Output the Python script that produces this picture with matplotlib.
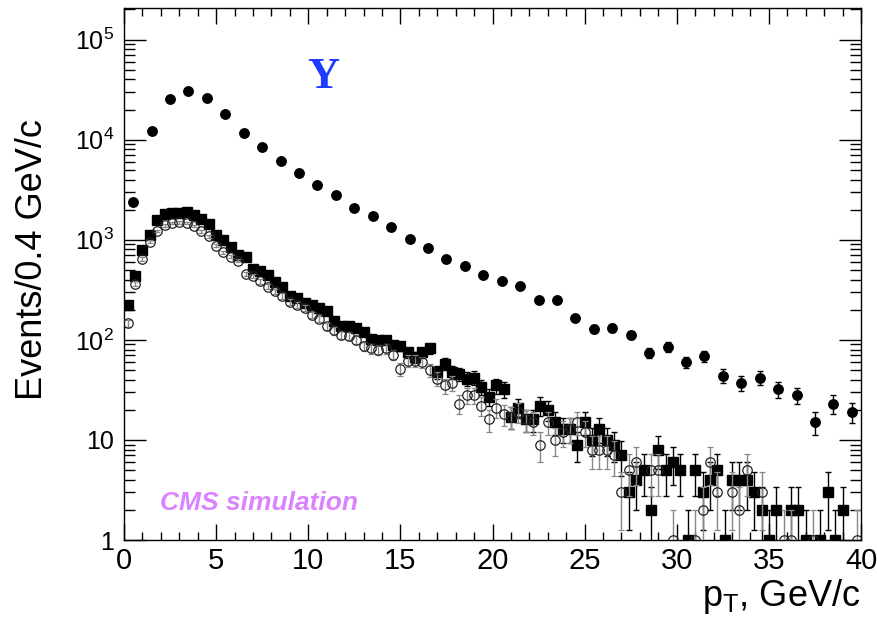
import matplotlib
matplotlib.use('Agg')
import matplotlib.pyplot as plt
import numpy as np
from matplotlib.ticker import FixedLocator, FixedFormatter, MultipleLocator, LogLocator, NullFormatter

plt.rcParams['font.family'] = ['Liberation Sans', 'DejaVu Sans']
plt.rcParams['mathtext.fontset'] = 'custom'
plt.rcParams['mathtext.rm'] = 'Liberation Sans'
plt.rcParams['mathtext.it'] = 'Liberation Sans:italic'

# Upsilon pT spectrum, 1 GeV/c bins (filled circles)
ups_pt = np.arange(0.5, 40, 1.0)
ups_counts = [2400, 12300, 25700, 31000, 26300, 18200, 11700, 8500, 6150, 4700,
              3550, 2800, 2090, 1740, 1350, 1020, 830, 645, 550, 447,
              389, 347, 251, 251, 166, 129, 132, 112, 74, 85,
              60, 69, 44, 37, 42, 32, 28, 15, 23, 19]

# 0.4 GeV/c bins
pt_bins = np.arange(0.2, 40, 0.4)
# filled squares
sq_counts = [225, 437, 785, 1110, 1560, 1790, 1850, 1870, 1880, 1780,
             1600, 1450, 1120, 990, 855, 700, 680, 505, 482, 440,
             382, 335, 275, 261, 233, 224, 208, 192, 155, 138,
             138, 131, 119, 102, 100, 100, 89, 86, 75, 67,
             75, 82, 48, 58, 48, 46, 41, 42, 34, 27,
             35, 32, 17, 21, 16, 16, 22, 20, 15, 13,
             13, 9, 15, 10, 13, 10, 9, 7, 3, 4,
             5, 2, 8, 5, 6, 5, 1, 5, 3, 4,
             5, 1, 4, 4, 4, 3, 2, 1, 2, 0,
             2, 2, 1, 0, 1, 3, 1, 2, 0, 0]
# open circles
oc_counts = [147, 365, 640, 960, 1220, 1390, 1470, 1490, 1460, 1370,
             1210, 1080, 870, 750, 680, 620, 460, 435, 385, 340,
             305, 275, 240, 222, 208, 178, 162, 136, 124, 112,
             110, 100, 86, 82, 80, 82, 71, 51, 62, 62,
             60, 50, 41, 35, 37, 23, 28, 28, 22, 16,
             21, 18, 17, 19, 16, 15, 9, 15, 10, 12,
             13, 15, 12, 8, 8, 8, 7, 3, 5, 6,
             0, 5, 5, 0, 1, 0, 0, 1, 2, 6,
             3, 0, 3, 2, 5, 0, 3, 0, 0, 1,
             1, 0, 0, 1, 0, 0, 0, 0, 0, 1]

ytick_vals = [1, 10, 100, 1000, 10000, 100000]
ytick_labels = ['1', '10', r'$\mathregular{10^{2}}$', r'$\mathregular{10^{3}}$',
                r'$\mathregular{10^{4}}$', r'$\mathregular{10^{5}}$']


def poisson(x, counts):
    x = np.asarray(x)
    y = np.asarray(counts, dtype=float)
    keep = y > 0
    x, y = x[keep], y[keep]
    err = np.sqrt(y)
    lo = np.minimum(err, y * 0.999)
    return x, y, [lo, err]


fig = plt.figure(figsize=(8.77, 6.18), dpi=100)
ax = fig.add_axes([124 / 877, 1 - 540 / 618, 737 / 877, 532 / 618])

x, y, e = poisson(pt_bins, sq_counts)
ax.errorbar(x, y, yerr=e, fmt='s', ms=6.5, color='black', ecolor='black',
            elinewidth=1, capsize=2.5, capthick=1, zorder=3)

x, y, e = poisson(pt_bins, oc_counts)
ax.errorbar(x, y, yerr=e, fmt='o', ms=6.8, mfc='none', mec='#222222', mew=0.9,
            ecolor='#888888', elinewidth=1, capsize=2.5, capthick=1, zorder=4)

x, y, e = poisson(ups_pt, ups_counts)
ax.errorbar(x, y, yerr=e, fmt='o', ms=6.8, color='black', ecolor='black',
            elinewidth=1, capsize=2.5, capthick=1, zorder=5)

ax.set_yscale('log')
ax.set_xlim(0, 40)
ax.set_ylim(1, 2.07e5)

ax.xaxis.set_major_locator(MultipleLocator(5))
ax.xaxis.set_minor_locator(MultipleLocator(1))
ax.yaxis.set_major_locator(FixedLocator(ytick_vals))
ax.yaxis.set_major_formatter(FixedFormatter(ytick_labels))
ax.yaxis.set_minor_locator(LogLocator(base=10, subs=np.arange(2, 10)))
ax.yaxis.set_minor_formatter(NullFormatter())

ax.tick_params(axis='x', which='major', direction='in', length=11.5, width=1,
               top=True, labelsize=21, pad=5)
ax.tick_params(axis='x', which='minor', direction='in', length=5.5, width=1, top=True)
ax.tick_params(axis='y', which='major', direction='in', length=16, width=1,
               right=True, labelsize=18, pad=7)
ax.tick_params(axis='y', which='minor', direction='in', length=8, width=1, right=True)
for s in ax.spines.values():
    s.set_linewidth(1.0)

fig.text(33 / 877, 1 - 260 / 618, 'Events/0.4 GeV/c', rotation=90,
         ha='center', va='center', fontsize=26)
fig.text(860 / 877, 1 - 606 / 618, r'$\mathregular{p_{T}}$, GeV/c',
         ha='right', va='baseline', fontsize=26)

ax.text(10.8, 4.2e4, '\u03a5', family='Liberation Serif', weight='bold',
        fontsize=32, color='#1e3cff', ha='center', va='center')
ax.text(1.95, 2.0, 'CMS simulation', fontsize=19, weight='bold', style='italic',
        color='#da82ff', va='baseline')

fig.savefig('out.png', dpi=100)
